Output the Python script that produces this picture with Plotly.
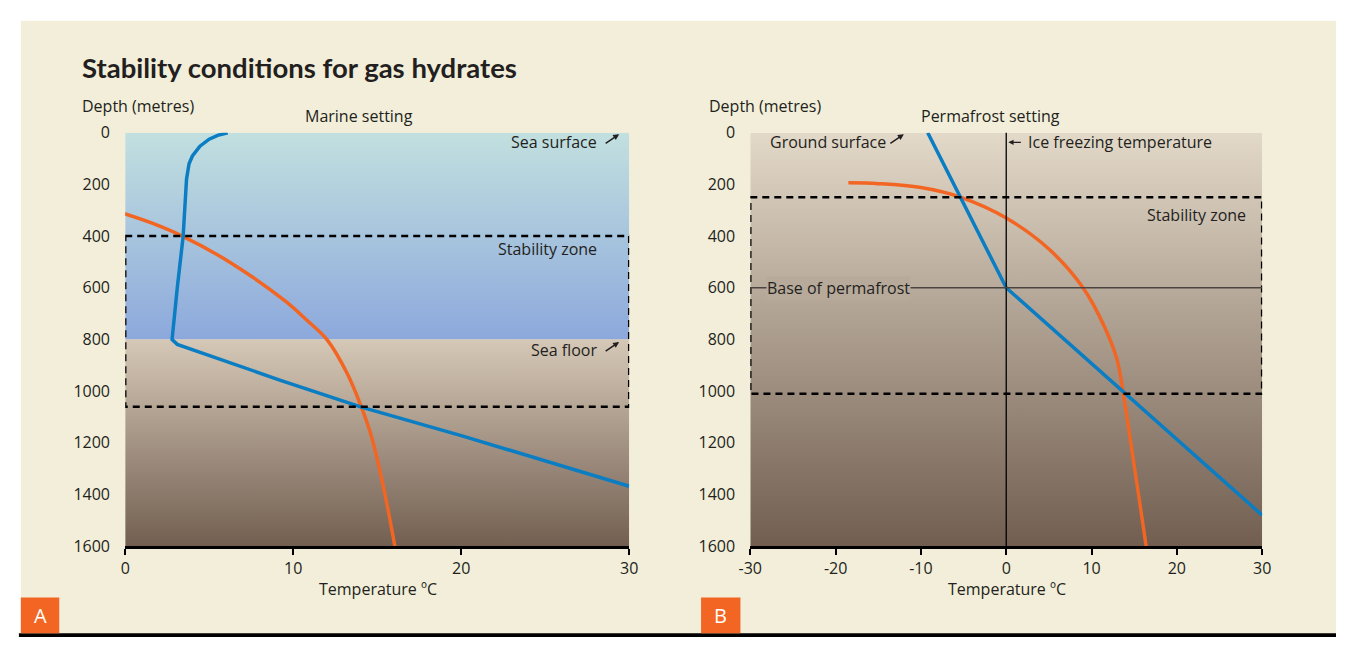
import plotly.graph_objects as go

# ---- data ----
# Marine setting (panel A)
MARINE_HSZ_T = [-0.4, 1.6, 3.4, 6.2, 9.5, 10.8, 12.0, 13.2, 14.06, 14.65, 15.4, 16.05]
MARINE_HSZ_D = [306, 350, 400, 500, 650, 725, 800, 930, 1062, 1174, 1380, 1600]
MARINE_GEO_T = [6.1, 5.5, 5.0, 4.45, 4.0, 3.8, 3.65, 3.55, 3.45, 3.1, 2.79,
                3.1, 5.2, 9.2, 14.06, 20.1, 30]
MARINE_GEO_D = [0, 10, 25, 52, 90, 120, 180, 300, 400, 600, 800,
                819, 867, 957, 1062, 1174, 1368]
SEA_FLOOR = 800
MARINE_ZONE = (400, 1060)
TEMP_TICKS_A = [0, 10, 20, 30]

# Permafrost setting (panel B)
PERMA_HSZ_T = [-18.5, -15, -10, -5.3, 0, 5, 9, 11.5, 13.0, 13.7, 14.6, 15.6, 16.4]
PERMA_HSZ_D = [194, 197, 212, 250, 330, 450, 600, 750, 880, 1005, 1200, 1420, 1600]
PERMA_GEO_T = [-9.2, 0, 30]
PERMA_GEO_D = [0, 600, 1480]
PERMAFROST_BASE = 600
PERMA_ZONE = (250, 1010)
TEMP_TICKS_B = [-30, -20, -10, 0, 10, 20, 30]

DEPTH_TICKS = [0, 200, 400, 600, 800, 1000, 1200, 1400, 1600]
MAX_DEPTH = 1600

W, H = 1345, 648
CREAM = "#f2eed9"
ORANGE = "#f26522"
BLUE = "#0b7dc2"
INK = "#231f20"
SEA_TOP, SEA_BOT = "#c2e0df", "#8ca8dc"
SED_TOP, SED_BOT = "#d5c7b6", "#705d4f"
LAND_TOP = "#e3d9c9"
FONT = "Open Sans"


def px(x):  # paper fraction from pixel column
    return x / W


def py(y):  # paper fraction from pixel row
    return 1 - y / H


def mix(c1, c2, f):
    a = [int(c1[i:i + 2], 16) for i in (1, 3, 5)]
    b = [int(c2[i:i + 2], 16) for i in (1, 3, 5)]
    return "#" + "".join(f"{round(p + (q - p) * f):02x}" for p, q in zip(a, b))


def band(x0, x1, d0, d1, top, bot, xa, ya):
    return go.Scatter(
        x=[x0, x1, x1, x0, x0], y=[d0, d0, d1, d1, d0], xaxis=xa, yaxis=ya,
        mode="lines", line=dict(width=0), fill="toself",
        fillgradient=dict(type="vertical", start=d0, stop=d1,
                          colorscale=[[0, top], [1, bot]]),
        hoverinfo="skip", showlegend=False)


def curve(t, d, color, xa, ya, shape="linear"):
    return go.Scatter(x=t, y=d, xaxis=xa, yaxis=ya, mode="lines",
                      line=dict(color=color, width=3.5, shape=shape),
                      hoverinfo="skip", showlegend=False)


fig = go.Figure()

# backgrounds
fig.add_trace(band(0, 30, 0, SEA_FLOOR, SEA_TOP, SEA_BOT, "x", "y"))
fig.add_trace(band(0, 30, SEA_FLOOR, MAX_DEPTH, SED_TOP, SED_BOT, "x", "y"))
fig.add_trace(band(-30, 30, 0, MAX_DEPTH, LAND_TOP, SED_BOT, "x2", "y2"))

# curves
fig.add_trace(curve(MARINE_HSZ_T, MARINE_HSZ_D, ORANGE, "x", "y", "spline"))
fig.add_trace(curve(MARINE_GEO_T, MARINE_GEO_D, BLUE, "x", "y"))
fig.add_trace(curve(PERMA_HSZ_T, PERMA_HSZ_D, ORANGE, "x2", "y2", "spline"))
fig.add_trace(curve(PERMA_GEO_T, PERMA_GEO_D, BLUE, "x2", "y2"))

shapes = [
    # cream panel, bottom rule, A/B tags
    dict(type="rect", xref="paper", yref="paper", x0=px(9), x1=1, y0=0, y1=py(10),
         fillcolor=CREAM, line_width=0, layer="below"),
    dict(type="rect", xref="paper", yref="paper", x0=px(7), x1=1, y0=0, y1=py(644),
         fillcolor="#000000", line_width=0),
    dict(type="rect", xref="paper", yref="paper", x0=px(9), x1=px(48),
         y0=py(644), y1=py(607), fillcolor=ORANGE, line_width=0),
    dict(type="rect", xref="paper", yref="paper", x0=px(700), x1=px(740),
         y0=py(644), y1=py(607), fillcolor=ORANGE, line_width=0),
    # stability zones
    dict(type="rect", xref="x", yref="y", x0=0, x1=30,
         y0=MARINE_ZONE[0], y1=MARINE_ZONE[1],
         line=dict(color="#000000", width=2.5, dash="7px,5px")),
    dict(type="rect", xref="x2", yref="y2", x0=-30, x1=30,
         y0=PERMA_ZONE[0], y1=PERMA_ZONE[1],
         line=dict(color="#000000", width=2.5, dash="7px,5px")),
    # ice freezing line and base of permafrost
    dict(type="line", xref="x2", yref="y2", x0=0, x1=0, y0=-25, y1=MAX_DEPTH,
         line=dict(color="#000000", width=1.3)),
    dict(type="line", xref="x2", yref="y2", x0=-30, x1=30,
         y0=PERMAFROST_BASE, y1=PERMAFROST_BASE,
         line=dict(color="#4a4541", width=1.3)),
]

txt = dict(family=FONT, size=16, color=INK)
hook = dict(showarrow=True, arrowhead=2, arrowsize=0.8, arrowwidth=1.5,
            arrowcolor=INK, text="")
ann = [
    dict(text="<b>Stability conditions for gas hydrates</b>", xref="paper", yref="paper",
         x=px(69), y=py(59), xanchor="left", yanchor="middle", showarrow=False,
         font=dict(family="Lato", size=27.5, color=INK)),
    dict(text="Depth (metres)", xref="paper", yref="paper", x=px(69), y=py(98),
         xanchor="left", yanchor="middle", showarrow=False, font=txt),
    dict(text="Depth (metres)", xref="paper", yref="paper", x=px(706), y=py(98),
         xanchor="left", yanchor="middle", showarrow=False, font=txt),
    dict(text="Marine setting", xref="paper", yref="paper", x=px(352), y=py(109),
         xanchor="center", yanchor="middle", showarrow=False, font=txt),
    dict(text="Permafrost setting", xref="paper", yref="paper", x=px(994), y=py(109),
         xanchor="center", yanchor="middle", showarrow=False, font=txt),
    dict(text="Temperature ºC", xref="paper", yref="paper", x=px(372), y=py(598),
         xanchor="center", yanchor="middle", showarrow=False, font=txt),
    dict(text="Temperature ºC", xref="paper", yref="paper", x=px(1011), y=py(598),
         xanchor="center", yanchor="middle", showarrow=False, font=txt),
    dict(text="A", xref="paper", yref="paper", x=px(28.5), y=py(626),
         xanchor="center", yanchor="middle", showarrow=False,
         font=dict(family=FONT, size=20, color="#ffffff")),
    dict(text="B", xref="paper", yref="paper", x=px(720), y=py(626),
         xanchor="center", yanchor="middle", showarrow=False,
         font=dict(family=FONT, size=20, color="#ffffff")),
    # panel A labels
    dict(text="Sea surface", xref="x", yref="y", x=28.2, y=37, xanchor="right",
         yanchor="middle", showarrow=False, font=txt),
    dict(hook, xref="x", yref="y", x=29.4, y=6, ax=-15, ay=10),
    dict(text="Stability zone", xref="x", yref="y", x=28.2, y=449, xanchor="right",
         yanchor="middle", showarrow=False, font=txt),
    dict(text="Sea floor", xref="x", yref="y", x=28.2, y=841, xanchor="right",
         yanchor="middle", showarrow=False, font=txt),
    dict(hook, xref="x", yref="y", x=29.4, y=810, ax=-15, ay=10),
    # panel B labels
    dict(text="Ground surface", xref="x2", yref="y2", x=-27.9, y=37, xanchor="left",
         yanchor="middle", showarrow=False, font=txt),
    dict(hook, xref="x2", yref="y2", x=-12.0, y=6, ax=-15, ay=10),
    dict(hook, xref="x2", yref="y2", x=0.25, y=37, ax=14, ay=0, arrowwidth=1.3),
    dict(text="Ice freezing temperature", xref="x2", yref="y2", x=2.3, y=37,
         xanchor="left", yanchor="middle", showarrow=False, font=txt),
    dict(text="Stability zone", xref="x2", yref="y2", x=28.3, y=318, xanchor="right",
         yanchor="middle", showarrow=False, font=txt),
    dict(text="Base of permafrost", xref="x2", yref="y2", x=-28.1, y=PERMAFROST_BASE,
         xanchor="left", yanchor="middle", showarrow=False, font=txt,
         bgcolor=mix(LAND_TOP, SED_BOT, PERMAFROST_BASE / MAX_DEPTH), borderpad=0),
]

tickfont = dict(family=FONT, size=16, color=INK)
yax = dict(range=[MAX_DEPTH, 0], tickvals=DEPTH_TICKS, ticks="outside", ticklen=11,
           tickcolor="rgba(0,0,0,0)", showline=False, showgrid=False, zeroline=False,
           tickfont=tickfont)
xax = dict(showline=True, linecolor="#000000", linewidth=2.5, ticks="outside",
           ticklen=6, tickwidth=2, tickcolor="#000000", showgrid=False,
           zeroline=False, tickfont=tickfont)

# no fixed width/height: the figure fills the browser window
fig.update_layout(
    autosize=True, margin=dict(l=0, r=0, t=0, b=0),
    paper_bgcolor="#ffffff", plot_bgcolor="rgba(0,0,0,0)",
    xaxis=dict(xax, domain=[px(115), px(627)], range=[0, 30], anchor="y",
               tickvals=TEMP_TICKS_A, ticktext=[str(v) for v in TEMP_TICKS_A]),
    yaxis=dict(yax, domain=[py(554), py(126)], anchor="x"),
    xaxis2=dict(xax, domain=[px(750), px(1270)], range=[-30, 30], anchor="y2",
                tickvals=TEMP_TICKS_B, ticktext=[str(v) for v in TEMP_TICKS_B]),
    yaxis2=dict(yax, domain=[py(554), py(126)], anchor="x2"),
    shapes=shapes, annotations=ann, showlegend=False,
)

fill_window = (
    "document.documentElement.style.height='100%';"
    "document.body.style.height='100%';"
    "document.body.style.margin='0';"
    "document.body.style.overflow='hidden';"
    "var gd=document.getElementById('{plot_id}');"
    "gd.parentElement.style.height='100%';"
    "Plotly.Plots.resize(gd);"
)
fig.write_html("out.html", config={"displayModeBar": False},
               default_width="100%", default_height="100%",
               post_script=fill_window)
